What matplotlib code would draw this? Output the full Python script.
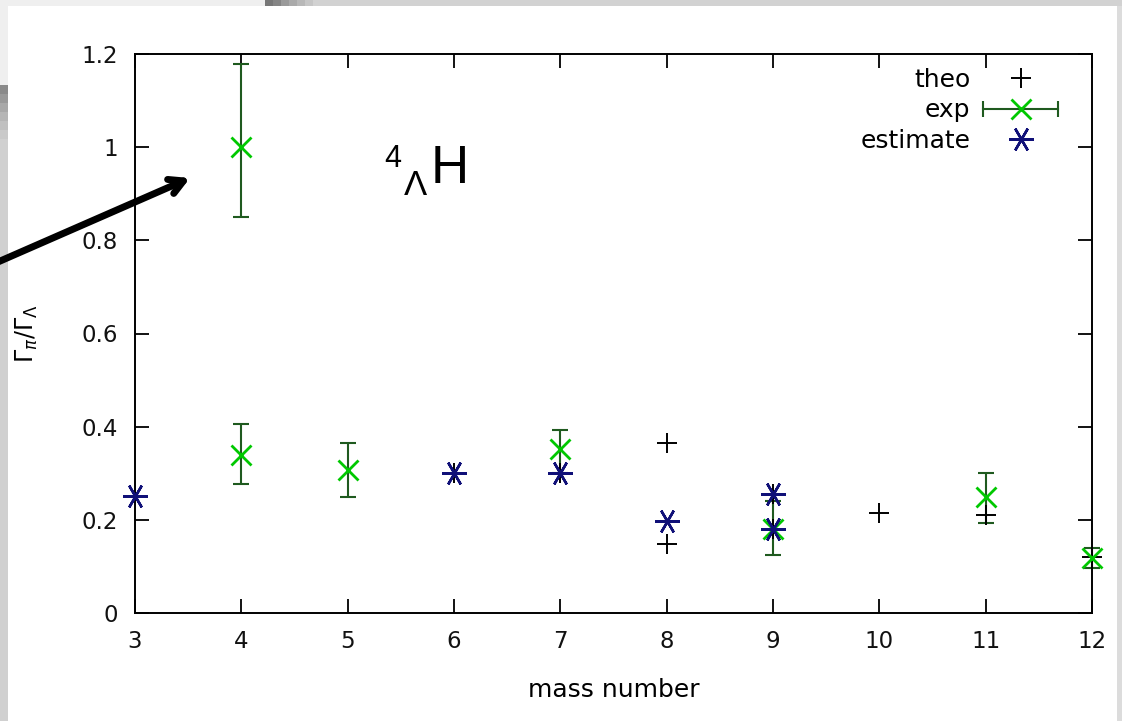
import matplotlib
matplotlib.use("Agg")
import matplotlib.pyplot as plt
from matplotlib.lines import Line2D
from matplotlib.patches import Rectangle
from matplotlib.legend_handler import HandlerBase

# ---------------- data ----------------
mass_theo = [6, 7, 8, 8, 9, 9, 10, 11, 12]
theo = [0.30, 0.30, 0.365, 0.148, 0.255, 0.18, 0.215, 0.21, 0.12]

mass_exp = [4, 4, 5, 7, 9, 11, 12]
exp_val = [1.00, 0.34, 0.307, 0.353, 0.18, 0.248, 0.118]
exp_lo = [0.85, 0.276, 0.248, 0.30, 0.125, 0.194, 0.097]
exp_hi = [1.178, 0.405, 0.364, 0.392, 0.24, 0.30, 0.14]

mass_est = [3, 6, 7, 8, 9, 9]
est = [0.252, 0.30, 0.30, 0.198, 0.255, 0.181]

xticks = [3, 4, 5, 6, 7, 8, 9, 10, 11, 12]
yticks = [0, 0.2, 0.4, 0.6, 0.8, 1.0, 1.2]
yticklabels = ["0", "0.2", "0.4", "0.6", "0.8", "1", "1.2"]

GREEN = "#00c800"
DKGREEN = "#1f5a1f"
NAVY = "#101078"

W, H = 1122, 721
fig = plt.figure(figsize=(W / 100, H / 100), dpi=100)
fig.patch.set_facecolor("white")

# background frame strips (screenshot edges)
def px_rect(x0, y0, x1, y1, color):
    fig.patches.append(Rectangle((x0 / W, 1 - y1 / H), (x1 - x0) / W, (y1 - y0) / H,
                                 transform=fig.transFigure, facecolor=color,
                                 edgecolor="none", zorder=-10))

px_rect(0, 0, 265, 6, "#efefef")
grad = ["#777777", "#858585", "#9a9a9a", "#aaaaaa", "#b8b8b8", "#c6c6c6"]
for i, c in enumerate(grad):
    px_rect(265 + i * 8, 0, 273 + i * 8, 6, c)
px_rect(313, 0, W, 6, "#d2d2d2")
px_rect(0, 0, 8, 85, "#efefef")
lgrad = ["#8a8a8a", "#999999", "#a8a8a8", "#b5b5b5", "#c0c0c0", "#c9c9c9"]
for i, c in enumerate(lgrad):
    px_rect(0, 85 + i * 9, 8, 94 + i * 9, c)
px_rect(0, 139, 8, H, "#d0d0d0")
px_rect(1117, 6, W, H, "#dcdcdc")

ax = fig.add_axes([135 / W, 1 - 613 / H, (1092 - 135) / W, (613 - 54) / H])
ax.set_xlim(3, 12)
ax.set_ylim(0, 1.2)

# theo
ax.plot(mass_theo, theo, ls="none", marker="+", ms=15, mew=1.4, color="black",
        clip_on=False, zorder=3)
# exp with error bars
yerr = [[v - lo for v, lo in zip(exp_val, exp_lo)], [hi - v for v, hi in zip(exp_val, exp_hi)]]
ax.errorbar(mass_exp, exp_val, yerr=yerr, fmt="none", ecolor=DKGREEN, elinewidth=1.5,
            capsize=6, capthick=1.5, clip_on=False, zorder=2)
ax.plot(mass_exp, exp_val, ls="none", marker="x", ms=15, mew=2, color=GREEN,
        clip_on=False, zorder=4)
# estimate
ax.plot(mass_est, est, ls="none", marker=(6, 2, 90), ms=18, mew=1.8, color=NAVY,
        clip_on=False, zorder=5)

ax.set_xticks(xticks)
ax.set_xticklabels([str(t) for t in xticks])
ax.set_yticks(yticks)
ax.set_yticklabels(yticklabels)
ax.tick_params(direction="in", length=10, width=1.3, top=True, right=True,
               labelsize=16.5, pad=12, labelcolor="#111111")
for s in ax.spines.values():
    s.set_linewidth(1.4)

ax.set_xlabel("mass number", fontsize=18, labelpad=18)
ax.set_ylabel(r"$\Gamma_\pi/\Gamma_\Lambda$", fontsize=17, labelpad=30)


class ErrHandler(HandlerBase):
    def create_artists(self, legend, orig_handle, xdescent, ydescent, width, height,
                       fontsize, trans):
        y = height / 2 - ydescent
        x0, x1 = -xdescent, width - xdescent
        line = Line2D([x0, x1], [y, y], color=DKGREEN, lw=1.5, transform=trans)
        caps = Line2D([x0, x1], [y, y], ls="none", marker="|", ms=12, mew=1.5,
                      color=DKGREEN, transform=trans)
        mk = Line2D([(x0 + x1) / 2], [y], ls="none", marker="x", ms=15, mew=2,
                    color=GREEN, transform=trans)
        return [line, caps, mk]


h_theo = Line2D([], [], ls="none", marker="+", ms=15, mew=1.4, color="black")
h_exp = Line2D([], [], ls="none")
h_est = Line2D([], [], ls="none", marker=(6, 2, 90), ms=18, mew=1.8, color=NAVY)
leg = ax.legend([h_theo, h_exp, h_est], ["theo", "exp", "estimate"],
                handler_map={h_exp: ErrHandler()}, loc="upper right",
                bbox_to_anchor=(1058 / W, 1 - 68 / H), bbox_transform=fig.transFigure,
                frameon=False, markerfirst=False, numpoints=1, fontsize=18,
                handlelength=3.0, handletextpad=0.5, labelspacing=0.25, borderpad=0,
                borderaxespad=0)

# annotation arrow and label
ax.annotate("", xy=(190 / W, 1 - 178 / H), xycoords="figure fraction",
            xytext=(-0.01, 1 - 266 / H), textcoords="figure fraction",
            arrowprops=dict(arrowstyle="->,head_length=1.0,head_width=0.55",
                            lw=5, color="black", shrinkA=0, shrinkB=0),
            annotation_clip=False, zorder=10)
fig.text(384 / W, 1 - 167 / H, "4", fontsize=22, family="Liberation Sans",
         ha="left", va="baseline")
fig.text(404 / W, 1 - 195 / H, "Λ", fontsize=25, family="Liberation Sans",
         ha="left", va="baseline")
fig.text(431 / W, 1 - 183 / H, "H", fontsize=38, family="Liberation Sans",
         ha="left", va="baseline")

fig.savefig("out.png", dpi=100)
